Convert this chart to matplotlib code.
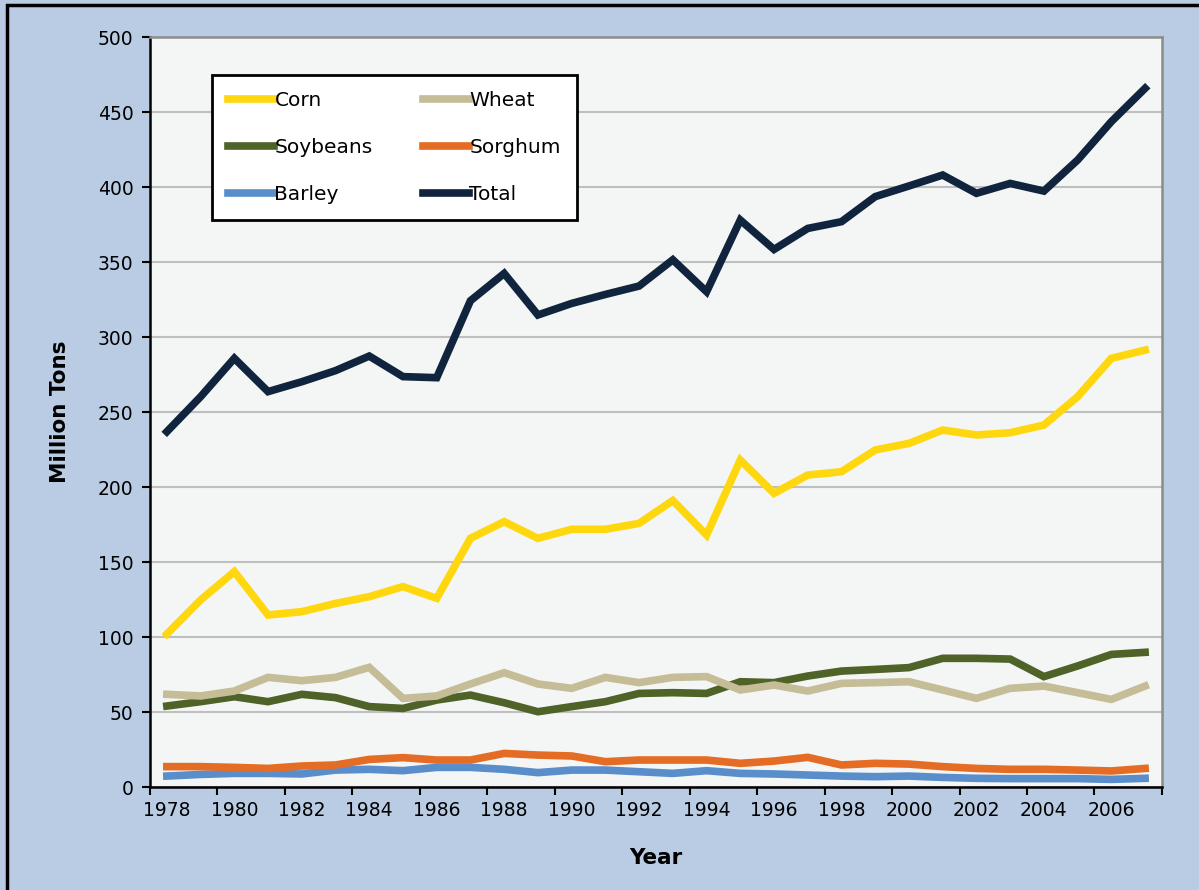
import numpy as np
import matplotlib
matplotlib.use("Agg")
import matplotlib.pyplot as plt
from matplotlib.patches import Rectangle

# data (million tons)
years = list(range(1978, 2008))
corn = [102, 124.7, 143.6, 114.7, 116.9, 122.4, 126.9, 133.6, 125.8, 165.8,
        176.9, 165.8, 171.8, 171.8, 175.8, 191, 168, 218, 195.8, 208,
        210.2, 224.7, 229.1, 238, 234.7, 236.2, 241.3, 260.2, 285.8, 291.3]
wheat = [61.8, 60.7, 64, 73.1, 70.9, 73.1, 79.8, 59.1, 60.7, 68.7,
         76.2, 68.7, 65.8, 73.1, 69.6, 73.1, 73.6, 64.7, 68, 64,
         69.1, 69.6, 70.2, 64.7, 59.1, 65.8, 67.3, 62.9, 58.4, 67.3]
soybeans = [54, 56.9, 60.2, 56.9, 61.8, 59.6, 53.6, 52.4, 58, 61.3,
            56.2, 50.2, 53.6, 56.9, 62.4, 62.9, 62.4, 70.2, 69.6, 74,
            77.3, 78.4, 79.6, 85.8, 85.8, 85.3, 73.6, 80.7, 88.4, 89.8]
sorghum = [13.6, 13.6, 13.1, 12.4, 14, 14.7, 18.4, 19.6, 18, 18,
           22.4, 21.3, 20.7, 16.9, 18, 18, 18, 15.8, 17.3, 19.8,
           14.7, 15.8, 15.3, 13.6, 12.4, 11.8, 11.8, 11.3, 10.7, 12.4]
barley = [7.3, 8.4, 9.1, 9.1, 8.7, 11.3, 11.8, 10.9, 13.1, 13.1,
          11.8, 9.6, 11.3, 11.3, 10.2, 9.1, 10.9, 9.1, 8.7, 8,
          7.3, 6.9, 7.3, 6.4, 5.8, 5.6, 5.6, 5.6, 5.1, 5.8]
total = [236.9, 260.2, 285.8, 263.6, 270.2, 277.6, 287.3, 273.6, 272.9, 324.2,
         342.4, 314.7, 322.4, 328.4, 334, 351.5, 330.2, 378, 358.4, 372.4,
         376.9, 393.6, 400.7, 408, 395.8, 402.4, 397.3, 418, 443.6, 465.8]

plt.rcParams['font.family'] = ['Verdana', 'DejaVu Sans']

fig = plt.figure(figsize=(11.99, 8.90), dpi=100)
fig.patch.set_facecolor('#b9cce4')
# outer frame: only top and left edges show in the picture
fig.patches.append(Rectangle((0.006, -0.05), 1.05, 1.044, transform=fig.transFigure,
                             fill=False, edgecolor='black', linewidth=2.5))

ax = fig.add_axes([0.1251, 0.1157, 0.8440, 0.8427])
ax.set_facecolor('#f4f6f5')

x = np.arange(len(years))
lw = 5.5
ax.plot(x, corn, color='#ffd70f', lw=lw, label='Corn', solid_joinstyle='miter')
ax.plot(x, soybeans, color='#4f6228', lw=lw, label='Soybeans', solid_joinstyle='miter')
ax.plot(x, barley, color='#5a8ecb', lw=lw, label='Barley', solid_joinstyle='miter')
ax.plot(x, wheat, color='#c4bd97', lw=lw, label='Wheat', solid_joinstyle='miter')
ax.plot(x, sorghum, color='#e46c24', lw=lw, label='Sorghum', solid_joinstyle='miter')
ax.plot(x, total, color='#10243e', lw=lw, label='Total', solid_joinstyle='miter')

ax.set_xlim(-0.5, len(years) - 0.5)
ax.set_ylim(0, 500)
ax.set_yticks(np.arange(0, 501, 50))
ax.yaxis.grid(True, color='#bfbfbf', lw=1.5)
ax.set_axisbelow(True)

# category axis: tick marks between points, labels on even years
ax.set_xticks(np.arange(-0.5, len(years), 2))
ax.set_xticklabels([])
ax.set_xticks(x[::2], minor=True)
ax.set_xticklabels([str(y) for y in years[::2]], minor=True)
ax.tick_params(axis='x', which='minor', length=0, pad=10, labelsize=13.5)
ax.tick_params(axis='x', which='major', length=6, width=1.5, direction='out')
ax.tick_params(axis='y', length=6, width=1.5, direction='out', pad=6, labelsize=13.5)

for s in ['left', 'bottom']:
    ax.spines[s].set_color('black')
    ax.spines[s].set_linewidth(1.8)
for s in ['top', 'right']:
    ax.spines[s].set_color('#8c8c8c')
    ax.spines[s].set_linewidth(1.8)

ax.set_xlabel('Year', fontsize=15.5, fontweight='bold', labelpad=20)
ax.set_ylabel('Million Tons', fontsize=15.5, fontweight='bold', labelpad=20)

leg = ax.legend(ncol=2, loc='upper left', bbox_to_anchor=(0.0613, 0.949),
                borderaxespad=0, fontsize=14.5, frameon=True, fancybox=False,
                handlelength=2.3, handletextpad=0.0, columnspacing=2.5,
                labelspacing=1.38, borderpad=0.8)
leg.get_frame().set_edgecolor('black')
leg.get_frame().set_linewidth(2)
leg.get_frame().set_facecolor('white')
leg.get_frame().set_alpha(1)

fig.savefig('out.png', dpi=100, facecolor=fig.get_facecolor())
